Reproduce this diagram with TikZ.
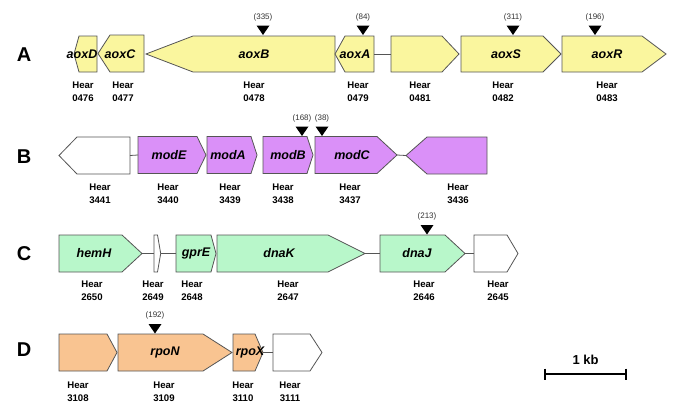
\documentclass[tikz,border=0pt]{standalone}
\usepackage{fontspec}
\setmainfont{Liberation Sans}
\definecolor{gy}{HTML}{FAF69E}
\definecolor{gp}{HTML}{DA90F8}
\definecolor{gg}{HTML}{B8F7CA}
\definecolor{go}{HTML}{F9C491}
\definecolor{gline}{HTML}{555555}
\definecolor{glab}{HTML}{333333}
% rightward gene: name, xleft, xhead, xtip, ytop, ybot, fill
\newcommand{\gener}[7]{%
  \draw[gene,fill=#7] (#2,#5) -- (#3,#5) -- (#4,{(#5+#6)/2}) -- (#3,#6) -- (#2,#6) -- cycle;
  \coordinate (#1-w) at (#2,{(#5+#6)/2});
  \coordinate (#1-e) at (#4,{(#5+#6)/2});}
% leftward gene: name, xtip, xhead, xright, ytop, ybot, fill
\newcommand{\genel}[7]{%
  \draw[gene,fill=#7] (#2,{(#5+#6)/2}) -- (#3,#5) -- (#4,#5) -- (#4,#6) -- (#3,#6) -- cycle;
  \coordinate (#1-w) at (#2,{(#5+#6)/2});
  \coordinate (#1-e) at (#4,{(#5+#6)/2});}
% insertion marker: name, x, ytop(of gene), number
\newcommand{\ins}[4]{%
  \fill[black] (#2-6.5,#3-9.5) -- (#2+6.5,#3-9.5) -- (#2,#3) -- cycle;
  \node[inslab] (#1) at (#2,#3-18) {(#4)};}
\tikzset{
  gene/.style={draw=gline,line width=0.8pt,line join=miter},
  link/.style={draw=gline,line width=0.8pt},
  gname/.style={font=\fontsize{12.5}{14}\selectfont\bfseries\itshape,inner sep=0pt},
  hear/.style={font=\fontsize{9.6}{13}\selectfont\bfseries,align=center,inner sep=0pt},
  inslab/.style={font=\fontsize{8}{9}\selectfont,text=glab,inner sep=0pt},
  rowlab/.style={font=\fontsize{20}{22}\selectfont\bfseries,inner sep=0pt},
}
\begin{document}
\begin{tikzpicture}[x=1pt,y=-1pt]
\useasboundingbox (0,0) rectangle (685,418);
% ---------------- Row A ----------------
\node[rowlab] (lA) at (24,55) {A};
\genel{a476}{74}{79}{97}{36}{72}{gy}
\genel{a477}{98}{110}{144}{35}{72}{gy}
\genel{a478}{146}{193}{335}{36}{72}{gy}
\genel{a479}{335}{345}{374}{36}{72}{gy}
\gener{a481}{391}{442}{459}{36}{72}{gy}
\gener{a482}{461}{543}{561}{36}{72}{gy}
\gener{a483}{562}{642}{666}{36}{72}{gy}
\draw[link] (a479-e) -- (a481-w);
\node[gname] (nD) at (82,54) {aoxD};
\node[gname] (nC) at (120,54) {aoxC};
\node[gname] (nB) at (254,54) {aoxB};
\node[gname] (nA) at (355,54) {aoxA};
\node[gname] (nS) at (506,54) {aoxS};
\node[gname] (nR) at (607,54) {aoxR};
\ins{iB}{263}{35}{335}
\ins{iA}{363}{35}{84}
\ins{iS}{513}{35}{311}
\ins{iR}{595}{35}{196}
\node[hear] (h476) at (83,91.5) {Hear\\0476};
\node[hear] (h477) at (123,91.5) {Hear\\0477};
\node[hear] (h478) at (254,91.5) {Hear\\0478};
\node[hear] (h479) at (358,91.5) {Hear\\0479};
\node[hear] (h481) at (420,91.5) {Hear\\0481};
\node[hear] (h482) at (503,91.5) {Hear\\0482};
\node[hear] (h483) at (607,91.5) {Hear\\0483};
% ---------------- Row B ----------------
\node[rowlab] (lB) at (24,157) {B};
\genel{b3441}{59}{77}{130}{137}{174}{white}
\gener{b3440}{138}{197}{206}{136.5}{173.5}{gp}
\gener{b3439}{207}{251}{257}{136.5}{173.5}{gp}
\gener{b3438}{263}{307}{313}{136.5}{173.5}{gp}
\gener{b3437}{315}{377}{397}{136.5}{173.5}{gp}
\genel{b3436}{406}{427}{487}{137}{174}{gp}
\draw[link] (b3441-e) -- (b3440-w);
\draw[link] (b3437-e) -- (b3436-w);
\node[gname] (nmE) at (169,155) {modE};
\node[gname] (nmA) at (228,155) {modA};
\node[gname] (nmB) at (288,155) {modB};
\node[gname] (nmC) at (352,155) {modC};
\ins{i168}{302}{136}{168}
\ins{i38}{322}{136}{38}
\node[hear] (h3441) at (100,193.5) {Hear\\3441};
\node[hear] (h3440) at (168,193.5) {Hear\\3440};
\node[hear] (h3439) at (230,193.5) {Hear\\3439};
\node[hear] (h3438) at (283,193.5) {Hear\\3438};
\node[hear] (h3437) at (350,193.5) {Hear\\3437};
\node[hear] (h3436) at (458,193.5) {Hear\\3436};
% ---------------- Row C ----------------
\node[rowlab] (lC) at (24,253.5) {C};
\gener{c2650}{59}{122}{142}{235}{272}{gg}
\gener{c2649}{154}{157.5}{160.7}{235}{272}{white}
\gener{c2648}{176}{211}{216}{235}{272}{gg}
\gener{c2647}{217}{328}{365}{235}{272}{gg}
\gener{c2646}{380}{445}{465}{235}{272}{gg}
\gener{c2645}{474}{507}{518}{235}{272}{white}
\draw[link] (c2650-e) -- (c2649-w);
\draw[link] (c2649-e) -- (c2648-w);
\draw[link] (c2647-e) -- (c2646-w);
\draw[link] (c2646-e) -- (c2645-w);
\node[gname] (nhem) at (94,253.5) {hemH};
\node[gname] (ngpr) at (196,253.5) {gprE};
\node[gname] (ndK) at (279,253.5) {dnaK};
\node[gname] (ndJ) at (417,253.5) {dnaJ};
\ins{i213}{427}{234.5}{213}
\node[hear] (h2650) at (92,290.5) {Hear\\2650};
\node[hear] (h2649) at (153,290.5) {Hear\\2649};
\node[hear] (h2648) at (192,290.5) {Hear\\2648};
\node[hear] (h2647) at (288,290.5) {Hear\\2647};
\node[hear] (h2646) at (424,290.5) {Hear\\2646};
\node[hear] (h2645) at (498,290.5) {Hear\\2645};
% ---------------- Row D ----------------
\node[rowlab] (lD) at (24,350) {D};
\gener{d3108}{59}{107}{117}{334}{371}{go}
\gener{d3109}{118}{203}{232}{334}{371}{go}
\gener{d3110}{233}{255}{263}{334}{371}{go}
\gener{d3111}{273}{310}{322}{334}{371}{white}
\draw[link] (d3110-e) -- (d3111-w);
\node[gname] (nrN) at (165,352.5) {rpoN};
\node[gname] (nrX) at (250,352.5) {rpoX};
\ins{i192}{155}{333.5}{192}
\node[hear] (h3108) at (78,391.5) {Hear\\3108};
\node[hear] (h3109) at (164,391.5) {Hear\\3109};
\node[hear] (h3110) at (243,391.5) {Hear\\3110};
\node[hear] (h3111) at (290,391.5) {Hear\\3111};
% ---------------- scale bar ----------------
\coordinate (sb1) at (545,374);
\coordinate (sb2) at (626,374);
\draw[line width=2.2pt] (sb1) -- (sb2);
\draw[line width=2.2pt] (545,368.5) -- (545,379.5);
\draw[line width=2.2pt] (626,368.5) -- (626,379.5);
\node[font=\fontsize{13}{15}\selectfont\bfseries,inner sep=0pt] (kb) at (585.5,360) {1 kb};
\end{tikzpicture}
\end{document}
